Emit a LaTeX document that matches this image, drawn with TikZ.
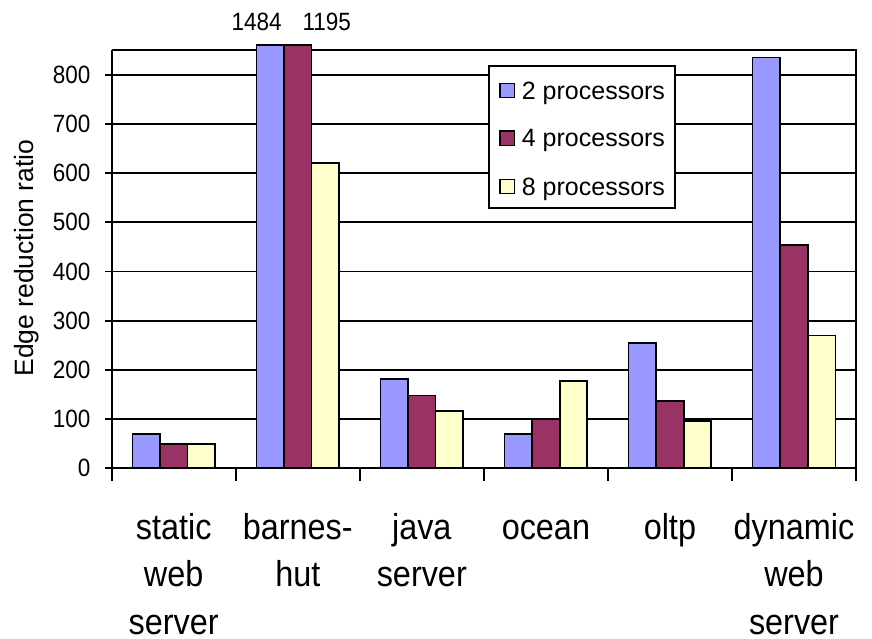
\documentclass[tikz,border=0pt]{standalone}
\usepackage{fontspec}
\setmainfont{Liberation Sans}
\newfontfamily\narrowsans{Liberation Sans}[FakeStretch=0.9]
\definecolor{proctwo}{HTML}{9999FF}
\definecolor{procfour}{HTML}{993366}
\definecolor{proceight}{HTML}{FFFFCC}
\tikzset{
  chartline/.style={black,line width=1.7pt},
  bartwo/.style={fill=proctwo,draw=black,line width=1.7pt},
  barfour/.style={fill=procfour,draw=black,line width=1.7pt},
  bareight/.style={fill=proceight,draw=black,line width=1.7pt},
  ticklabel/.style={font=\narrowsans\fontsize{25}{29}\selectfont,text=black,anchor=east,inner sep=0pt},
  toplabel/.style={font=\narrowsans\fontsize{25}{29}\selectfont,text=black,anchor=base,inner sep=0pt},
  catlabel/.style={font=\narrowsans\fontsize{36}{47.5}\selectfont,text=black,align=center,anchor=north,inner sep=0pt},
  keybox/.style={draw=black,line width=1.3pt,minimum size=14.3pt,inner sep=0pt},
  keytext/.style={font=\fontsize{25}{30}\selectfont,text=black,anchor=base west,inner sep=0pt}
}

\begin{document}
\begin{tikzpicture}[x=1pt,y=1pt]
\useasboundingbox (-111.7,-170.7) rectangle (760.3,468.3);

% grid and plot frame
\draw[chartline] (0,49.2) -- (744.3,49.2);
\draw[chartline] (0,98.4) -- (744.3,98.4);
\draw[chartline] (0,147.6) -- (744.3,147.6);
\draw[chartline] (0,196.8) -- (744.3,196.8);
\draw[chartline] (0,246) -- (744.3,246);
\draw[chartline] (0,295.2) -- (744.3,295.2);
\draw[chartline] (0,344.4) -- (744.3,344.4);
\draw[chartline] (0,393.6) -- (744.3,393.6);
\draw[chartline] (0,418.2) -- (744.3,418.2) -- (744.3,0);

% static web server
\draw[bartwo] (20.68,0) rectangle (48.25,34.44);
\draw[barfour] (48.25,0) rectangle (75.82,24.6);
\draw[bareight] (75.82,0) rectangle (103.39,24.6);
% barnes-hut (first two run off the top)
\draw[bartwo] (144.73,0) rectangle (172.30,423.3);
\draw[barfour] (172.30,0) rectangle (199.87,423.3);
\draw[bareight] (199.87,0) rectangle (227.44,305.04);
% java server
\draw[bartwo] (268.78,0) rectangle (296.35,89.54);
\draw[barfour] (296.35,0) rectangle (323.92,72.82);
\draw[bareight] (323.92,0) rectangle (351.49,57.56);
% ocean
\draw[bartwo] (392.83,0) rectangle (420.40,34.44);
\draw[barfour] (420.40,0) rectangle (447.97,49.2);
\draw[bareight] (447.97,0) rectangle (475.54,87.58);
% oltp
\draw[bartwo] (516.88,0) rectangle (544.45,125.46);
\draw[barfour] (544.45,0) rectangle (572.02,67.40);
\draw[bareight] (572.02,0) rectangle (599.59,47.23);
% dynamic web server
\draw[bartwo] (640.93,0) rectangle (668.50,410.82);
\draw[barfour] (668.50,0) rectangle (696.07,223.37);
\draw[bareight] (696.07,0) rectangle (723.64,132.84);

% axes
\draw[chartline] (0,0) -- (0,418.2);
\draw[chartline] (0,0) -- (744.3,0);
\draw[chartline] (-6.5,0) -- (0,0);
\draw[chartline] (-6.5,49.2) -- (0,49.2);
\draw[chartline] (-6.5,98.4) -- (0,98.4);
\draw[chartline] (-6.5,147.6) -- (0,147.6);
\draw[chartline] (-6.5,196.8) -- (0,196.8);
\draw[chartline] (-6.5,246) -- (0,246);
\draw[chartline] (-6.5,295.2) -- (0,295.2);
\draw[chartline] (-6.5,344.4) -- (0,344.4);
\draw[chartline] (-6.5,393.6) -- (0,393.6);
\draw[chartline] (0,0) -- (0,-12.4);
\draw[chartline] (124.05,0) -- (124.05,-12.4);
\draw[chartline] (248.1,0) -- (248.1,-12.4);
\draw[chartline] (372.15,0) -- (372.15,-12.4);
\draw[chartline] (496.2,0) -- (496.2,-12.4);
\draw[chartline] (620.25,0) -- (620.25,-12.4);
\draw[chartline] (744.3,0) -- (744.3,-12.4);

\node[ticklabel] (y0) at (-21,0) {0};
\node[ticklabel] (y100) at (-21,49.2) {100};
\node[ticklabel] (y200) at (-21,98.4) {200};
\node[ticklabel] (y300) at (-21,147.6) {300};
\node[ticklabel] (y400) at (-21,196.8) {400};
\node[ticklabel] (y500) at (-21,246) {500};
\node[ticklabel] (y600) at (-21,295.2) {600};
\node[ticklabel] (y700) at (-21,344.4) {700};
\node[ticklabel] (y800) at (-21,393.6) {800};
\node[font=\fontsize{26.5}{30}\selectfont,rotate=90,text=black,anchor=base,inner sep=0pt] (ytitle) at (-78.4,210.3) {Edge reduction ratio};

% values of the clipped bars
\node[toplabel] (val2) at (145,437.3) {1484};
\node[toplabel] (val4) at (215,437.3) {1195};

% category names
\node[catlabel] (static) at (62.0,-37.4) {\strut static\\web\\server};
\node[catlabel] (barnes) at (186.1,-37.4) {\strut barnes-\\hut};
\node[catlabel] (java) at (310.1,-37.4) {\strut java\\server};
\node[catlabel] (ocean) at (434.2,-37.4) {\strut ocean};
\node[catlabel] (oltp) at (558.2,-37.4) {\strut oltp};
\node[catlabel] (dynamic) at (682.3,-37.4) {\strut dynamic\\web\\server};

% legend
\draw[chartline,fill=white] (377.6,260.6) rectangle (563.3,402.3);
\node[keybox,fill=proctwo] (k2) at (395.45,377.6) {};
\node[keybox,fill=procfour] (k4) at (395.45,330) {};
\node[keybox,fill=proceight] (k8) at (395.45,281.6) {};
\node[keytext] (t2) at (410,369) {2 processors};
\node[keytext] (t4) at (410,321.3) {4 processors};
\node[keytext] (t8) at (410,273) {8 processors};

\end{tikzpicture}
\end{document}
